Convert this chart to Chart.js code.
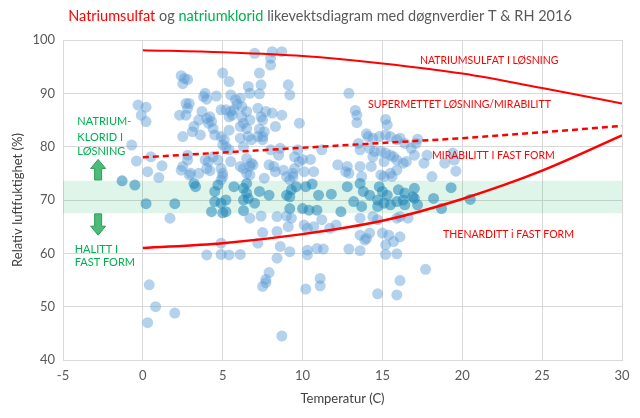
<!DOCTYPE html>
<html>
<head>
<meta charset="utf-8">
<script src="https://cdn.jsdelivr.net/npm/chart.js@4.4.1/dist/chart.umd.min.js"></script>
<style>
  html, body { margin: 0; padding: 0; background: #fff; }
  #wrap { width: 640px; height: 418px; }
</style>
</head>
<body>
<div id="wrap"><canvas id="chart" width="640" height="418"></canvas></div>
<script>
// ── Daily values 2016: temperature (C) and relative humidity (%) ─────────────
const tempC = [
  -0.3,-0.1,-0.7,-0.4,-1.3,-0.5, 0.2, 0.2,
   7.0, 8.1, 8.7, 8.0, 8.0, 5.0, 2.4, 2.6, 2.8, 2.5,
   5.4, 7.3, 6.6, 6.7, 7.4, 7.3, 9.1, 9.2, 3.9, 3.8,
   4.0, 4.6, 5.5, 5.8, 6.1, 5.9, 6.2, 5.7, 2.7, 2.9,
   2.8, 2.7, 2.3, 3.7, 4.0, 4.2, 4.1, 4.3, 4.9, 5.2,
   5.5, 5.6, 5.4, 6.5, 6.2, 6.7, 6.3, 6.1, 6.5, 7.2,
   7.7, 7.4, 7.5, 8.1, 8.7, 8.3, 7.3, 7.6, 7.5, 9.8,
   3.2, 3.5, 3.1, 3.6, 2.5, 4.4, 4.5, 4.9, 5.1, 5.0,
   5.4, 6.1, 6.6, 6.8, 7.2, 7.5, 5.2, 5.4, 6.3, 8.0,
   8.6, 8.5, 9.7, 9.5, 2.8, 2.8, 0.5, 3.9, 4.1, 4.4,
   4.7, 5.5, 6.5, 6.8, 6.9, 7.9, 8.2, 8.3, 8.8, 9.5,
   9.8, 0.3, 1.2, 2.5, 2.4, 3.0, 2.9, 3.5, 4.0, 4.2,
   4.9, 5.0, 5.0, 4.9, 6.1, 6.3, 6.7, 6.5, 6.7, 7.6,
   9.0, 9.2, 9.4, 1.0, 3.2, 3.3, 4.7, 4.5, 5.7, 6.3,
   6.5, 7.3, 7.9, 9.0, 9.3, 9.6, 6.5,
   0.2, 2.0, 1.7, 4.5, 4.9, 5.2, 4.3, 5.0, 5.2, 6.3,
   6.6, 7.0, 6.3, 6.7, 7.4, 9.2, 9.0, 9.3, 9.1, 8.4,
   8.4, 7.5, 7.2, 8.6, 9.2, 8.4, 4.9, 4.0, 4.9, 5.4,
   6.1, 7.9, 7.7, 7.7, 7.5, 0.4, 0.8, 2.0, 0.3, 8.7,
  12.9,13.3,13.4,13.4,15.2,15.3,14.0,14.1,13.5,13.6,
  14.4,14.8,15.2,15.5,15.9,16.1,16.4,17.2,17.1,16.8,
  14.2,14.5,14.9,14.4,15.2,15.5,15.7,15.1,15.9,16.3,
  16.5,17.0,17.6,17.8,18.9,10.0,10.5,11.2,12.2,12.8,
   9.4,10.1,10.7,12.7,12.9,13.6,14.3,13.7,14.9,15.1,
  15.5,15.9,15.6,18.1,10.2,10.6,11.0,11.8,12.8,13.6,
  13.8,14.2,14.8,15.0,15.3,16.0,16.4,17.0,16.9,
   9.2,10.0,10.4,10.9,12.4,13.2,13.7,14.7,14.7,15.1,
  15.5,15.9,16.3,16.4,17.0,17.2,18.2,18.7,10.1,10.3,
  10.7,11.2,11.7,12.1,13.6,14.4,14.7,15.9,16.1,16.6,
  13.6,13.9,14.2,14.0,15.0,15.4,16.1,15.7,15.2,10.3,
  10.3,10.9,11.3,12.9,13.6,15.2,15.9,17.7,16.1,11.1,
  11.1,10.2,14.7,15.9,
  19.4,19.5,19.6,19.3,20.5
];
const relHum = [
  87.8,85.9,80.3,77.3,73.6,72.8,87.4,84.7,
  97.5,97.8,97.8,96.6,95.3,93.8,93.3,92.8,92.6,91.8,
  92.2,93.8,91.3,90.0,91.6,89.9,91.6,89.7,90.0,89.4,
  88.9,89.5,89.7,88.8,89.1,88.0,87.5,86.9,88.1,88.1,
  87.2,85.9,85.9,86.6,85.3,85.6,84.4,84.7,86.9,86.9,
  86.6,85.9,85.6,86.6,85.6,85.0,84.4,83.8,83.4,87.2,
  86.6,85.6,85.0,86.3,85.9,83.8,83.3,82.8,81.9,84.4,
  83.8,85.0,82.8,82.2,81.9,83.4,82.2,81.9,81.3,80.3,
  83.1,81.6,81.9,81.3,81.9,81.3,80.0,79.4,80.0,79.4,
  79.7,78.4,79.4,78.1,78.4,77.5,78.1,77.5,77.2,78.1,
  77.5,77.2,77.8,76.9,76.6,76.6,76.3,75.3,75.6,75.9,
  77.2,75.3,76.4,76.3,75.6,75.0,74.7,75.0,75.9,75.5,
  75.9,75.0,74.4,73.8,76.3,75.9,76.3,75.0,74.7,74.1,
  74.4,73.8,75.0,74.2,73.1,72.5,72.8,71.6,72.5,72.2,
  73.1,71.6,70.9,70.9,71.9,72.5,71.3,
  69.3,69.3,66.6,69.7,69.4,70.0,67.8,67.6,67.8,70.0,
  70.3,69.4,68.0,66.6,67.0,68.4,67.0,66.6,65.0,66.9,
  64.1,63.9,61.9,61.3,60.3,59.1,61.9,59.7,59.8,59.7,
  59.8,56.4,55.1,54.5,53.8,54.1,50.0,48.8,47.0,44.5,
  90.0,86.8,85.9,84.5,85.1,84.1,82.4,81.9,80.6,79.4,
  81.6,81.9,82.2,81.9,81.3,81.6,80.6,81.4,80.6,79.7,
  79.7,79.1,79.1,78.1,78.8,78.4,78.1,77.2,77.5,76.9,
  77.2,78.4,76.9,78.4,76.9,77.6,77.6,79.4,76.6,76.3,
  74.4,75.3,75.3,75.3,75.0,76.3,76.3,74.4,74.7,74.4,
  75.0,75.6,74.4,74.4,72.5,73.0,70.9,71.1,72.5,73.1,
  71.6,70.9,72.5,71.6,70.9,71.9,71.3,72.2,70.6,
  70.6,68.4,68.1,68.1,67.8,69.7,68.8,70.0,68.8,69.4,
  69.1,69.7,70.0,69.1,70.3,69.1,70.3,68.4,65.3,64.7,
  65.0,66.3,64.7,65.3,66.6,66.9,66.3,66.6,66.9,66.6,
  63.4,62.5,63.8,62.8,63.8,63.4,63.1,62.2,61.6,60.6,
  59.7,60.9,60.8,60.8,60.5,59.8,59.9,57.0,54.9,55.3,
  53.9,53.3,52.4,52.2,
  78.8,77.5,75.4,72.3,70.1
];

// ── Equilibrium curves (RH % at temperature) ─────────────────────────────────
const curveT        = [0, 5, 10, 15, 20, 25, 30];
const sulfatLosning = [98.1, 97.7, 97.0, 95.6, 93.7, 91.0, 88.1];
const mirabilitt    = [78.0, 78.9, 79.8, 80.7, 81.6, 82.7, 83.9];
const thenarditt    = [61.0, 61.9, 63.6, 66.1, 70.2, 75.5, 82.1];

// ── Halitt (NaCl) deliquescence band ─────────────────────────────────────────
const bandT    = [-5, 30];
const bandLow  = [67.5, 67.5];
const bandHigh = [73.6, 73.6];

const FONT = "Lato, 'Open Sans', sans-serif";
const RED = '#FF0000';
const GREEN = '#00B050';
const GREY = '#595959';

const titleParts = [
  ['Natriumsulfat', RED],
  [' og ', GREY],
  ['natriumklorid', GREEN],
  [' likevektsdiagram med døgnverdier T & RH 2016', GREY],
];

// annotation anchors in data units (left edge, vertical centre)
const redNotes = [
  { text: 'NATRIUMSULFAT I LØSNING',        x: 17.35, y: 96.1 },
  { text: 'SUPERMETTET LØSNING/MIRABILITT', x: 14.1,  y: 87.8 },
  { text: 'MIRABILITT I FAST FORM',         x: 18.1,  y: 78.4 },
  { text: 'THENARDITT i FAST FORM',         x: 18.8,  y: 63.6 },
];
const greenNotes = [
  { text: 'NATRIUM-',  x: -4.1,  y: 84.7 },
  { text: 'KLORID I',  x: -4.1,  y: 81.8 },
  { text: 'LØSNING',   x: -4.1,  y: 79.1 },
  { text: 'HALITT I',  x: -4.27, y: 60.8 },
  { text: 'FAST FORM', x: -4.27, y: 58.2 },
];

const toXY = (xs, ys) => xs.map((v, i) => ({ x: v, y: ys[i] }));
const inBand = v => v >= bandLow[0] && v <= bandHigh[0];

function drawBlockArrow(ctx, cx, yTail, yHead) {
  const dir = yHead < yTail ? -1 : 1;
  const shaft = 3.5, head = 7.5, headLen = 9;
  const yNeck = yHead - dir * headLen;
  ctx.beginPath();
  ctx.moveTo(cx - shaft, yTail);
  ctx.lineTo(cx - shaft, yNeck);
  ctx.lineTo(cx - head, yNeck);
  ctx.lineTo(cx, yHead);
  ctx.lineTo(cx + head, yNeck);
  ctx.lineTo(cx + shaft, yNeck);
  ctx.lineTo(cx + shaft, yTail);
  ctx.closePath();
  ctx.fillStyle = '#4CBB7A';
  ctx.fill();
  ctx.strokeStyle = '#2E9E5B';
  ctx.lineWidth = 1;
  ctx.stroke();
}

// ── Plugin: coloured title, text notes and arrows ────────────────────────────
const notesPlugin = {
  id: 'notes',
  afterDatasetsDraw(chart) {
    const { ctx, scales: { x, y } } = chart;
    ctx.save();
    ctx.textBaseline = 'middle';
    ctx.textAlign = 'left';
    ctx.font = `10.5px ${FONT}`;
    ctx.fillStyle = RED;
    redNotes.forEach(n => ctx.fillText(n.text, x.getPixelForValue(n.x), y.getPixelForValue(n.y)));
    ctx.font = `11px ${FONT}`;
    ctx.fillStyle = GREEN;
    greenNotes.forEach(n => ctx.fillText(n.text, x.getPixelForValue(n.x), y.getPixelForValue(n.y)));
    const ax = x.getPixelForValue(-2.8);
    drawBlockArrow(ctx, ax, y.getPixelForValue(73.75), y.getPixelForValue(77.6));
    drawBlockArrow(ctx, ax, y.getPixelForValue(67.4), y.getPixelForValue(63.4));
    ctx.restore();
  },
  afterDraw(chart) {
    const { ctx, width } = chart;
    ctx.save();
    ctx.font = `14.5px ${FONT}`;
    ctx.textBaseline = 'middle';
    ctx.textAlign = 'left';
    const total = titleParts.reduce((s, p) => s + ctx.measureText(p[0]).width, 0);
    let px = (width - total) / 2;
    titleParts.forEach(([t, c]) => {
      ctx.fillStyle = c;
      ctx.fillText(t, px, 16);
      px += ctx.measureText(t).width;
    });
    ctx.restore();
  },
};

const lineStyle = { showLine: true, pointRadius: 0, borderWidth: 2, cubicInterpolationMode: 'monotone', fill: false };

new Chart(document.getElementById('chart'), {
  type: 'scatter',
  data: {
    datasets: [
      { label: 'Natriumsulfat i løsning', data: toXY(curveT, sulfatLosning), borderColor: RED, ...lineStyle },
      { label: 'Mirabilitt', data: toXY(curveT, mirabilitt), borderColor: RED, borderDash: [6, 4], ...lineStyle, borderWidth: 2.5 },
      { label: 'Thenarditt', data: toXY(curveT, thenarditt), borderColor: RED, ...lineStyle, borderWidth: 2.5 },
      {
        label: 'Døgnverdier',
        data: toXY(tempC, relHum),
        pointRadius: 5.5,
        pointHoverRadius: 5.5,
        borderWidth: 0,
        backgroundColor: ctx => {
          const p = ctx.raw;
          return p && inBand(p.y) ? 'rgba(30,135,185,0.55)' : 'rgba(91,155,213,0.45)';
        },
      },
      { label: 'Halitt topp', data: toXY(bandT, bandHigh), showLine: true, pointRadius: 0, borderWidth: 0,
        borderColor: 'rgba(0,0,0,0)', backgroundColor: 'rgba(0,176,80,0.12)', fill: '+1' },
      { label: 'Halitt bunn', data: toXY(bandT, bandLow), showLine: true, pointRadius: 0, borderWidth: 0,
        borderColor: 'rgba(0,0,0,0)', fill: false },
    ],
  },
  options: {
    responsive: false,
    animation: false,
    layout: { padding: { top: 40, right: 18, left: 0, bottom: 0 } },
    plugins: {
      legend: { display: false },
      tooltip: { enabled: false },
    },
    scales: {
      x: {
        type: 'linear',
        min: -5, max: 30,
        ticks: { stepSize: 5, color: GREY, font: { family: FONT, size: 13 }, padding: 8 },
        grid: { color: '#D9D9D9', drawTicks: false },
        border: { color: '#D9D9D9' },
        title: { display: true, text: 'Temperatur (C)', color: '#404040',
                 font: { family: FONT, size: 13 }, padding: { top: 0, bottom: 11 } },
        afterFit: s => { s.height = 58; },
      },
      y: {
        min: 40, max: 100,
        ticks: { stepSize: 10, color: GREY, font: { family: FONT, size: 13 }, padding: 8 },
        grid: { color: '#D9D9D9', drawTicks: false },
        border: { color: '#D9D9D9' },
        title: { display: true, text: 'Relativ luftfuktighet (%)', color: '#404040',
                 font: { family: FONT, size: 13 }, padding: { top: 10, bottom: 0 } },
        afterFit: s => { s.width = 63; },
      },
    },
  },
  plugins: [notesPlugin],
});
</script>
</body>
</html>
